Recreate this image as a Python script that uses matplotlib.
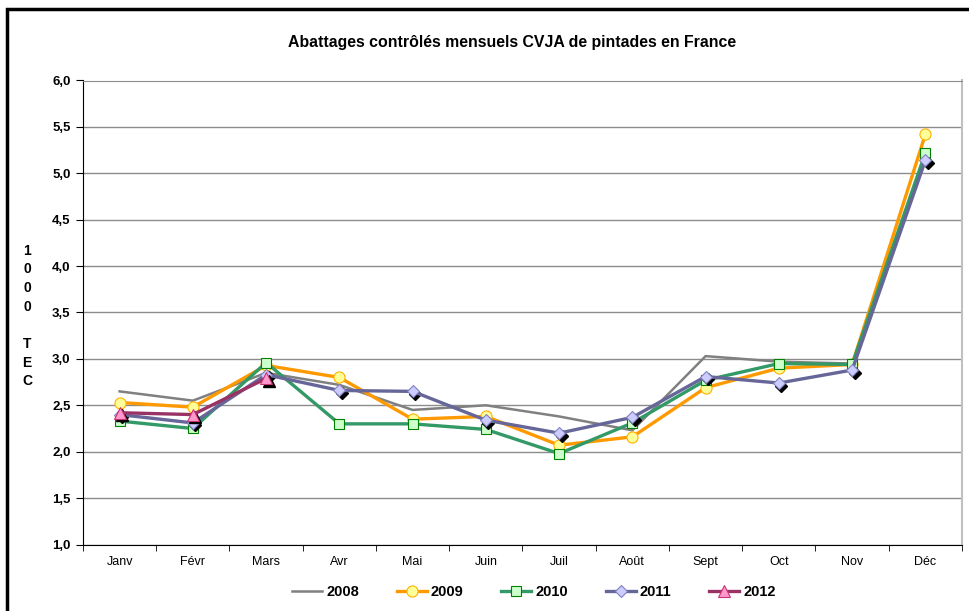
import matplotlib
matplotlib.use("Agg")
import matplotlib.pyplot as plt
import matplotlib.transforms as mtransforms
from matplotlib.patches import Rectangle

plt.rcParams['font.family'] = ['Liberation Sans', 'DejaVu Sans']

months = ["Janv", "Févr", "Mars", "Avr", "Mai", "Juin", "Juil", "Août",
          "Sept", "Oct", "Nov", "Déc"]

# abattages en 1000 TEC
v2008 = [2.65, 2.55, 2.85, 2.72, 2.45, 2.50, 2.38, 2.23, 3.03, 2.97, 2.95, 5.15]
v2009 = [2.53, 2.48, 2.93, 2.80, 2.35, 2.38, 2.07, 2.16, 2.69, 2.90, 2.94, 5.42]
v2010 = [2.33, 2.25, 2.96, 2.30, 2.30, 2.24, 1.98, 2.31, 2.77, 2.95, 2.94, 5.22]
v2011 = [2.40, 2.31, 2.83, 2.66, 2.65, 2.34, 2.20, 2.37, 2.81, 2.74, 2.88, 5.14]
v2012 = [2.42, 2.40, 2.79]

W, H = 970, 611
fig = plt.figure(figsize=(W / 100, H / 100), dpi=100)
ax = fig.add_axes([83 / W, (H - 544.5) / H, (962 - 83) / W, (544.5 - 80.5) / H])

x = list(range(len(months)))

# grille horizontale
ax.set_ylim(1.0, 6.0)
ax.set_xlim(-0.5, 11.5)
ax.set_yticks([1.0 + 0.5 * i for i in range(11)])
ax.yaxis.grid(True, color='#8c8c8c', linewidth=1.0)
ax.set_axisbelow(True)

ax.plot(x, v2008, color='#808080', linewidth=1.8, label='2008', zorder=3)
ax.plot(x, v2009, color='#FF9900', linewidth=2.4, marker='o', markersize=8,
        markerfacecolor='#FFFF99', markeredgecolor='#FFB000', markeredgewidth=0.8,
        label='2009', zorder=4)
ax.plot(x, v2010, color='#339966', linewidth=2.4, marker='s', markersize=7.5,
        markerfacecolor='#CCFFCC', markeredgecolor='#008000', markeredgewidth=0.8,
        label='2010', zorder=5)

# ombre des losanges
shadow = mtransforms.offset_copy(ax.transData, fig=fig, x=2.5, y=-2.5, units='dots')
ax.plot(x, v2011, linestyle='none', marker='D', markersize=6.5, color='black',
        transform=shadow, zorder=5.5)
ax.plot(x, v2011, color='#666699', linewidth=2.4, marker='D', markersize=6.5,
        markerfacecolor='#CCCCFF', markeredgecolor='#8080C0', markeredgewidth=0.8,
        label='2011', zorder=6)

ax.plot(x[:len(v2012)], v2012, linestyle='none', marker='^', markersize=8, color='black',
        transform=shadow, zorder=6.5)
ax.plot(x[:len(v2012)], v2012, color='#993366', linewidth=2.4, marker='^', markersize=8,
        markerfacecolor='#FF99CC', markeredgecolor='#CC3377', markeredgewidth=0.8,
        label='2012', zorder=7)

# axes
ax.set_xticks(x)
ax.set_xticklabels(months, fontsize=9)
ax.set_xticks([i + 0.5 for i in range(-1, 12)], minor=True)
ax.tick_params(axis='x', which='major', length=0, pad=8)
ax.tick_params(axis='x', which='minor', length=4, direction='out', color='black')
ax.set_yticklabels([f"{t:.1f}".replace('.', ',') for t in ax.get_yticks()],
                   fontsize=9.5, fontweight='bold')
ax.tick_params(axis='y', length=5, direction='out', color='black', pad=4)

ax.spines['left'].set_color('black')
ax.spines['bottom'].set_color('black')
ax.spines['top'].set_color('#8c8c8c')
ax.spines['right'].set_color('#c0c0c0')
ax.spines['right'].set_linewidth(1.5)

fig.text(512 / W, 1 - 42 / H, "Abattages contrôlés mensuels CVJA de pintades en France",
         ha='center', va='center', fontsize=11.4, fontweight='bold')

fig.text(27 / W, 1 - 316 / H, "1\n0\n0\n0\n\nT\nE\nC", ha='center', va='center',
         fontsize=10, fontweight='bold', linespacing=1.42)

leg = fig.legend(loc='center', bbox_to_anchor=(534 / W, 1 - 592 / H), ncol=5,
                 frameon=False, prop={'size': 10.5, 'weight': 'bold'},
                 handlelength=2.05, handletextpad=0.27, columnspacing=2.6)

# cadre du graphique
fig.patches.append(Rectangle((7 / W, -0.1), 1.2, 1.1 - 9 / H, transform=fig.transFigure,
                             fill=False, edgecolor='black', linewidth=2.5))

fig.savefig("out.png", dpi=100)
